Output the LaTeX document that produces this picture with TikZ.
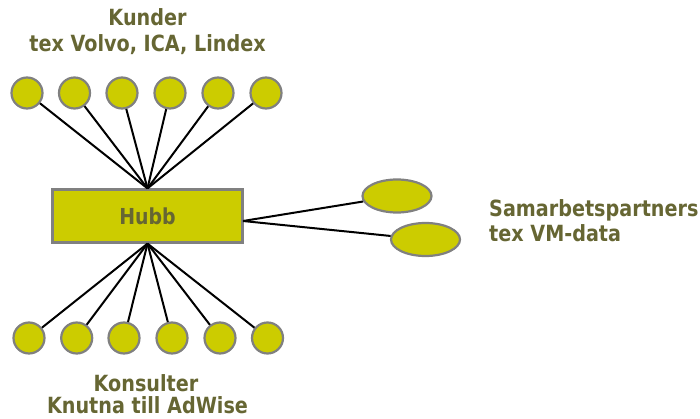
\documentclass[tikz,border=0pt]{standalone}
\usepackage{fontspec}
\setmainfont[FakeStretch=0.86]{DejaVu Sans}
\usetikzlibrary{shapes.geometric}
\definecolor{nodefill}{HTML}{CCCC00}
\definecolor{nodeedge}{HTML}{808080}
\definecolor{txt}{HTML}{666633}
\tikzset{
  dot/.style={circle, minimum size=31pt, inner sep=0pt, fill=nodefill, draw=nodeedge, line width=2.2pt},
  hubbox/.style={rectangle, minimum width=190pt, minimum height=53pt, inner sep=0pt, fill=nodefill, draw=nodeedge, line width=2.2pt, font=\bfseries\fontsize{22}{26}\selectfont, text=txt},
  oval/.style={ellipse, minimum width=69pt, minimum height=33pt, inner sep=0pt, fill=nodefill, draw=nodeedge, line width=2.2pt},
  lbl/.style={font=\bfseries\fontsize{22.3}{26}\selectfont, text=txt, inner sep=0pt},
  link/.style={line width=2pt, black}
}
\begin{document}
\begin{tikzpicture}[x=1pt,y=-1pt]
\useasboundingbox (0,0) rectangle (700,419);
% hub
\node[hubbox] (hub) at (147.5,216) {Hubb};
% top circles
\foreach \i/\x in {1/27,2/74.5,3/122,4/170,5/218,6/266}
  \node[dot] (t\i) at (\x,93) {};
% bottom circles
\foreach \i/\x in {1/29,2/76.7,3/124,4/172,5/220,6/267.5}
  \node[dot] (b\i) at (\x,338) {};
% ellipses
\node[oval] (e1) at (397,196) {};
\node[oval] (e2) at (425.5,239.5) {};
\coordinate (hr) at (243,221);
% connectors
\foreach \i in {1,...,6} {
  \draw[link] (t\i) -- (hub.north);
  \draw[link] (b\i) -- (hub.south);
}
\draw[link] (hr) -- (e1);
\draw[link] (hr) -- (e2);
% labels
\node[lbl, anchor=base] (ktop) at (147.5,26) {Kunder};
\node[lbl, anchor=base] (ktop2) at (147.5,52) {tex Volvo, ICA, Lindex};
\node[lbl, anchor=base west] (sam) at (489,216.5) {Samarbetspartners};
\node[lbl, anchor=base west] (sam2) at (489,241.5) {tex VM-data};
\node[lbl, anchor=base] (kon) at (146,391.5) {Konsulter};
\node[lbl, anchor=base] (kon2) at (147.5,413) {Knutna till AdWise};
\end{tikzpicture}
\end{document}
